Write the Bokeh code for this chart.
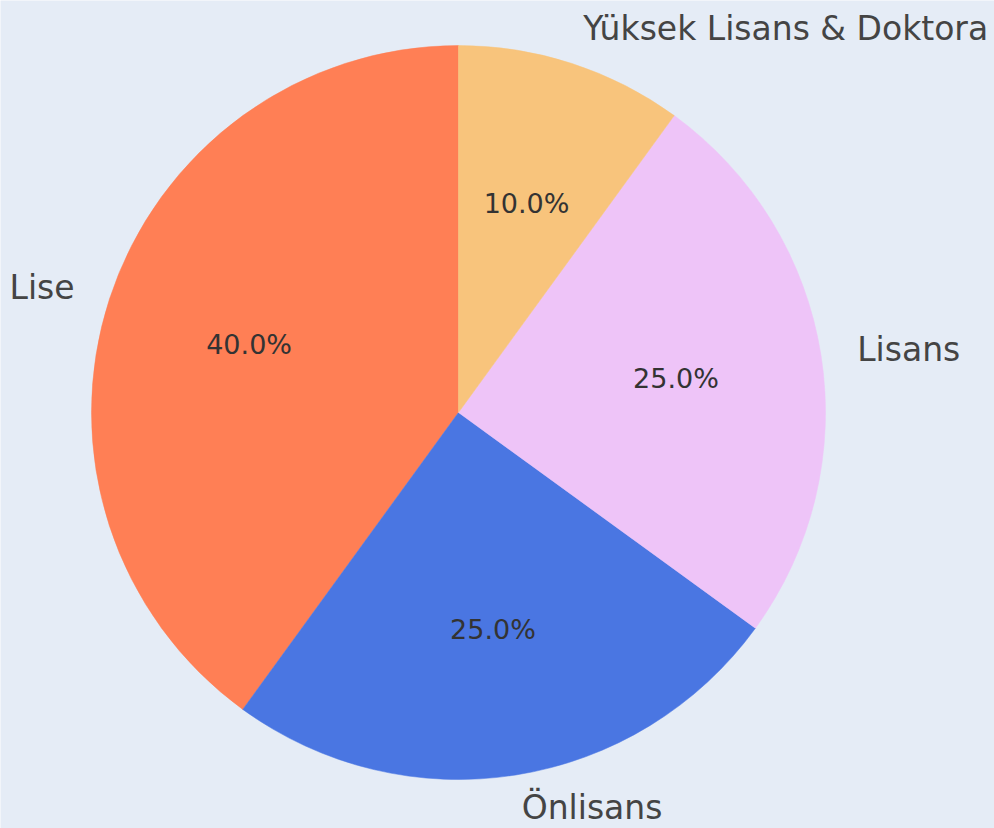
import math
from bokeh.plotting import figure
from bokeh.models import ColumnDataSource, Range1d
from bokeh.core.properties import value
from bokeh.embed import file_html
from bokeh.resources import INLINE

categories = ["Lise", "Önlisans", "Lisans", "Yüksek Lisans & Doktora"]
shares = [40.0, 25.0, 25.0, 10.0]
colors = ["#FF7F55", "#4A76E2", "#EEC4F8", "#F8C47C"]

BG = "#E5ECF6"
W, H = 994, 828
cx_px, cy_px, r_px = 458, 412, 367  # layout of the pie within the figure

total = sum(shares)
start_deg = 90.0
starts, ends, mids = [], [], []
acc = start_deg
for s in shares:
    a0 = acc
    a1 = acc + 360.0 * s / total
    starts.append(math.radians(a0))
    ends.append(math.radians(a1))
    mids.append(math.radians((a0 + a1) / 2))
    acc = a1

lab_x = [1.1 * math.cos(m) for m in mids]
lab_y = [1.1 * math.sin(m) for m in mids]
lab_align = ["left" if math.cos(m) >= 0 else "right" for m in mids]
# keep bottom label inside the canvas
lab_yoff = [-4 if math.sin(m) < -0.9 else 0 for m in mids]
pct_x = [0.6 * math.cos(m) for m in mids]
pct_y = [0.6 * math.sin(m) for m in mids]
pct_txt = [f"{s / total * 100:.1f}%" for s in shares]

src = ColumnDataSource(dict(cat=categories, start=starts, end=ends, color=colors,
                            lx=lab_x, ly=lab_y, la=lab_align, lyo=lab_yoff,
                            px=pct_x, py=pct_y, pt=pct_txt))

p = figure(width=W, height=H, output_backend="svg", toolbar_location=None,
           x_range=Range1d(-cx_px / r_px, (W - cx_px) / r_px),
           y_range=Range1d(-(H - cy_px) / r_px, cy_px / r_px),
           min_border=0)
p.axis.visible = False
p.grid.visible = False
p.outline_line_color = None
p.background_fill_color = BG
p.border_fill_color = BG

p.wedge(x=0, y=0, radius=1.0, start_angle="start", end_angle="end",
        direction="anticlock", fill_color="color", line_color="color",
        line_width=0.5, source=src)

p.text(x="lx", y="ly", text="cat", text_align="la", text_baseline="middle",
       y_offset="lyo",
       text_font=value("DejaVu Sans"), text_font_size="33px",
       text_color="#444444", source=src)
p.text(x="px", y="py", text="pt", text_align="center", text_baseline="middle",
       text_font=value("DejaVu Sans"), text_font_size="27px",
       text_color="#333333", source=src)

html = file_html(p, INLINE)
open("out.html", "w").write(html)
